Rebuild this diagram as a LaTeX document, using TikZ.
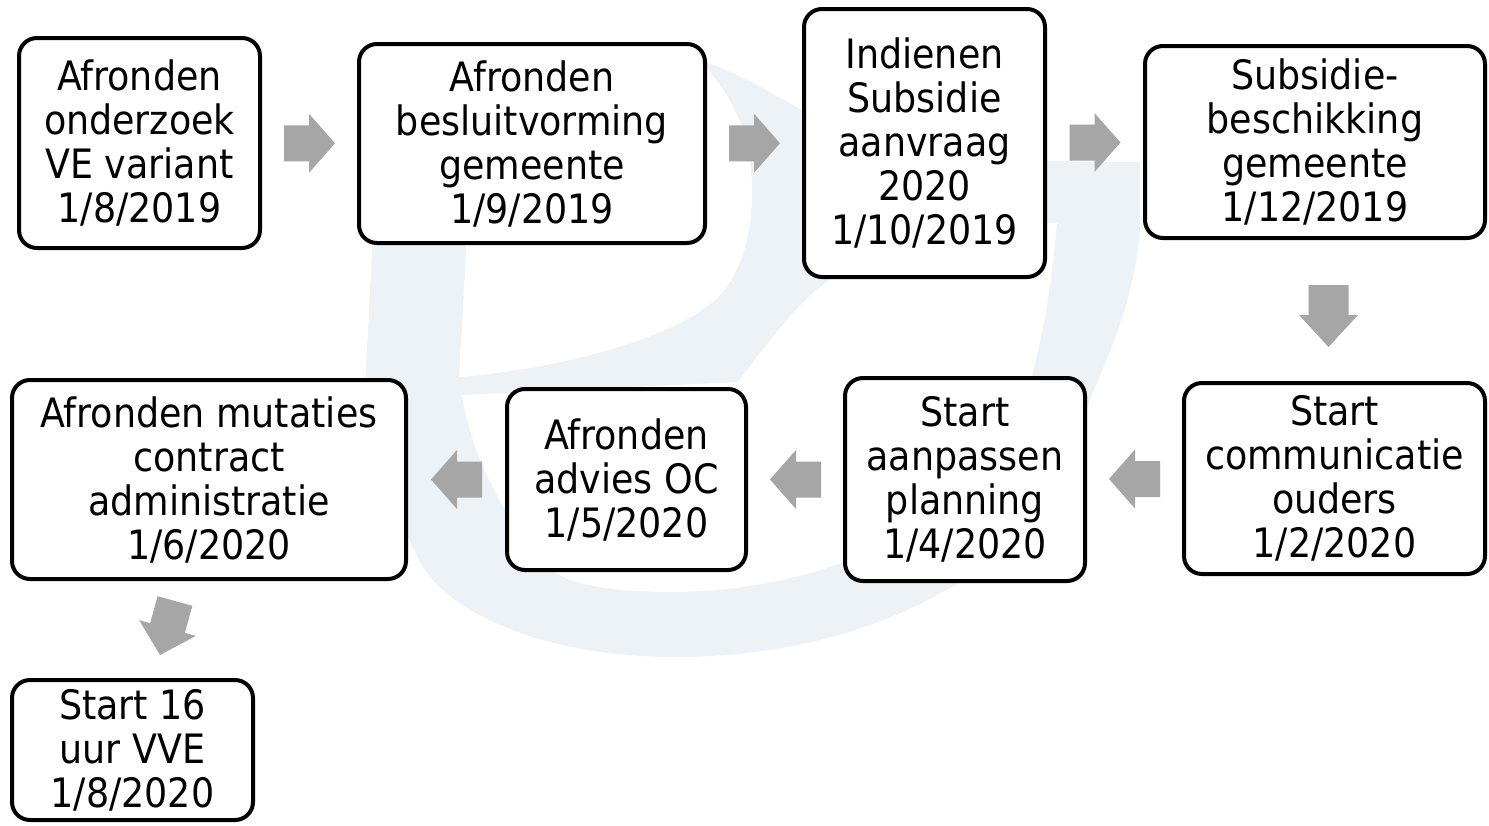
\documentclass[tikz,border=0pt]{standalone}
\usepackage{fontspec}
\setmainfont{DejaVu Sans Condensed}
\usetikzlibrary{calc}
\definecolor{wm}{RGB}{237,242,247}
\definecolor{arrowgray}{RGB}{166,166,166}
\begin{document}
\begin{tikzpicture}[x=1pt,y=-1pt,
  stepbox/.style={draw=black, line width=4pt, rounded corners=18pt, fill=white,
    align=center, inner sep=0pt, font=\fontsize{40.5}{44}\selectfont},
  arrowfill/.style={fill=arrowgray},
  watermark/.style={fill=wm},
  pics/blockarrow/.style n args={3}{code={
    \fill[arrowfill] (-#1/2,-#2/2) -- (#1/2-#3,-#2/2) -- (#1/2-#3,-29.5) -- (#1/2,0)
      -- (#1/2-#3,29.5) -- (#1/2-#3,#2/2) -- (-#1/2,#2/2) -- cycle;}}
]
\useasboundingbox (0,0) rectangle (1489,825);
\fill[white] (0,0) rectangle (1489,825);

% watermark logo
\fill[watermark] (378,48) -- (690,58)
  .. controls (740,70) and (780,100) .. (830,125)
  .. controls (900,155) and (1000,162) .. (1140,162)
  -- (1140,227)
  .. controls (1135,300) and (1110,350) .. (1090,400)
  .. controls (1060,480) and (1010,560) .. (946,590)
  .. controls (860,640) and (760,657) .. (674,657)
  .. controls (560,657) and (450,620) .. (419,560)
  .. controls (380,480) and (363,420) .. (366,370)
  -- (372,253) -- cycle;
\fill[white] (470,40) -- (466,253) -- (459,377)
  .. controls (550,370) and (680,340) .. (722,293)
  .. controls (750,260) and (758,200) .. (748,150)
  .. controls (740,110) and (720,80) .. (690,50) -- cycle;
\fill[white] (462,395) -- (738,382)
  .. controls (770,340) and (800,300) .. (826,283)
  .. controls (880,240) and (980,223) .. (1057,223)
  .. controls (1050,300) and (1040,350) .. (1025,400)
  .. controls (1000,470) and (930,530) .. (848,560)
  .. controls (800,580) and (730,592) .. (674,592)
  .. controls (610,592) and (560,585) .. (540,560)
  .. controls (500,510) and (470,450) .. (462,395) -- cycle;

% boxes
\node[stepbox, minimum width=241pt, minimum height=210pt] (n1) at (139.5,143)
  {Afronden\\onderzoek\\VE variant\\1/8/2019};
\node[stepbox, minimum width=346pt, minimum height=199pt] (n2) at (532,143.5)
  {Afronden\\besluitvorming\\gemeente\\1/9/2019};
\node[stepbox, minimum width=241pt, minimum height=268pt] (n3) at (924.5,143)
  {Indienen\\Subsidie\\aanvraag\\2020\\1/10/2019};
\node[stepbox, minimum width=340pt, minimum height=192pt] (n4) at (1315,142)
  {Subsidie-\\beschikking\\gemeente\\1/12/2019};
\node[stepbox, minimum width=301pt, minimum height=191pt] (n5) at (1334.5,478.5)
  {Start\\communicatie\\ouders\\1/2/2020};
\node[stepbox, minimum width=240pt, minimum height=203pt] (n6) at (965,479.5)
  {Start\\aanpassen\\planning\\1/4/2020};
\node[stepbox, minimum width=239pt, minimum height=181pt] (n7) at (626.5,479.5)
  {Afronden\\advies OC\\1/5/2020};
\node[stepbox, minimum width=394pt, minimum height=199pt] (n8) at (209,479.5)
  {Afronden mutaties\\contract\\administratie\\1/6/2020};
\node[stepbox, minimum width=241pt, minimum height=140pt] (n9) at (132.5,750)
  {Start 16\\uur VVE\\1/8/2020};

% block arrows
\pic at ($(n1.east)!0.5!(n2.west)$) {blockarrow={51}{36}{26}};
\pic at ($(n2.east)!0.5!(n3.west)$) {blockarrow={51}{36}{26}};
\pic at ($(n3.east)!0.5!(n4.west)$) {blockarrow={51}{36}{26}};
\pic[rotate=-90] at (1328.5,316) {blockarrow={62}{40}{32}};
\pic[rotate=180] at ($(n5.west)!0.5!(n6.east)$) {blockarrow={51}{36}{26}};
\pic[rotate=180] at ($(n6.west)!0.5!(n7.east)$) {blockarrow={51}{36}{26}};
\pic[rotate=180] at ($(n7.west)!0.5!(n8.east)$) {blockarrow={51}{36}{26}};
\pic[rotate=-105.5] at (167.5,628) {blockarrow={56}{36}{28}};
\end{tikzpicture}
\end{document}
